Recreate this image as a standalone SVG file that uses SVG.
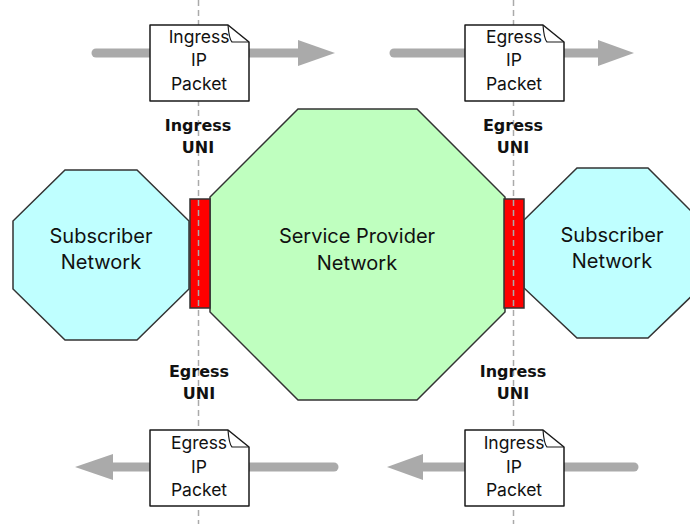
<svg xmlns="http://www.w3.org/2000/svg" width="690" height="524" viewBox="0 0 690 524">
  <defs>
    <style>
      .net { stroke: #333; stroke-width: 1.5; stroke-linejoin: miter; }
      .sub { fill: #bfffff; }
      .sp { fill: #bfffbf; }
      .uni { fill: #ff0000; stroke: #333; stroke-width: 1.5; }
      .guide { stroke: #aaaaaa; stroke-width: 1.5; stroke-dasharray: 6 4; fill: none; }
      .flow { stroke: #aaaaaa; stroke-width: 9; stroke-linecap: round; fill: none; }
      .head { fill: #aaaaaa; }
      .pkt { fill: #ffffff; stroke: #1a1a1a; stroke-width: 1.5; stroke-linejoin: round; }
      .fold { fill: none; stroke: #1a1a1a; stroke-width: 1.2; }
      .t { font-family: Inter, "Liberation Sans", sans-serif; fill: #111; text-anchor: middle; }
      .lg { font-size: 20px; }
      .sm { font-size: 17.5px; }
      .b { font-family: "DejaVu Sans", Inter, sans-serif; font-weight: bold; font-size: 16px; fill: #111; text-anchor: middle; }
    </style>
    <g id="packetShape">
      <path class="pkt" d="M0,0 H78 L99,17 V76 H0 Z"/>
      <path class="fold" d="M78,0 Q79,14 82,17 H99"/>
    </g>
  </defs>

  <!-- flow arrows -->
  <g id="connectors">
    <line class="flow" x1="96" y1="53" x2="300" y2="53"/>
    <polygon class="head" points="298,40 335,53 298,66"/>
    <line class="flow" x1="394" y1="53" x2="600" y2="53"/>
    <polygon class="head" points="598,40 634,53 598,66"/>
    <line class="flow" x1="334" y1="467" x2="112" y2="467"/>
    <polygon class="head" points="113,454 75,467 113,480"/>
    <line class="flow" x1="634" y1="467" x2="422" y2="467"/>
    <polygon class="head" points="423,454 387,467 423,480"/>
  </g>

  <!-- networks -->
  <g id="subscriber-left">
    <polygon class="net sub" points="65,170 137,170 189,221 189,289 137,340 65,340 13,289 13,221"/>
    <text class="t lg" x="101" y="243">Subscriber</text>
    <text class="t lg" x="101" y="269">Network</text>
  </g>
  <g id="subscriber-right">
    <polygon class="net sub" points="577,168 648,168 700,220 700,288 648,338 577,338 524,288 524,220"/>
    <text class="t lg" x="612" y="242">Subscriber</text>
    <text class="t lg" x="612" y="268">Network</text>
  </g>
  <g id="service-provider">
    <polygon class="net sp" points="298,109 417,109 505,197 505,312 417,400 298,400 210,312 210,197"/>
    <text class="t lg" x="357" y="243">Service Provider</text>
    <text class="t lg" x="357" y="270">Network</text>
  </g>

  <!-- UNI boundaries -->
  <g id="uni-left">
    <rect class="uni" x="190" y="199" width="20" height="109"/>
  </g>
  <g id="uni-right">
    <rect class="uni" x="504" y="199" width="20" height="109"/>
  </g>

  <!-- demarcation lines -->
  <g id="demarcation">
    <line class="guide" x1="198.5" y1="0" x2="198.5" y2="524"/>
    <line class="guide" x1="513.5" y1="0" x2="513.5" y2="524"/>
  </g>

  <!-- packets -->
  <g id="packet-top-left">
    <use href="#packetShape" x="150" y="25"/>
    <text class="t sm" x="199" y="43">Ingress</text>
    <text class="t sm" x="199" y="66">IP</text>
    <text class="t sm" x="199" y="90">Packet</text>
  </g>
  <g id="packet-top-right">
    <use href="#packetShape" x="465" y="25"/>
    <text class="t sm" x="514" y="43">Egress</text>
    <text class="t sm" x="514" y="66">IP</text>
    <text class="t sm" x="514" y="90">Packet</text>
  </g>
  <g id="packet-bottom-left">
    <use href="#packetShape" x="150" y="430"/>
    <text class="t sm" x="199" y="449">Egress</text>
    <text class="t sm" x="199" y="473">IP</text>
    <text class="t sm" x="199" y="496">Packet</text>
  </g>
  <g id="packet-bottom-right">
    <use href="#packetShape" x="465" y="430"/>
    <text class="t sm" x="514" y="449">Ingress</text>
    <text class="t sm" x="514" y="473">IP</text>
    <text class="t sm" x="514" y="496">Packet</text>
  </g>

  <!-- UNI labels -->
  <g id="labels">
    <text class="b" x="198" y="131">Ingress</text>
    <text class="b" x="198" y="153">UNI</text>
    <text class="b" x="513" y="131">Egress</text>
    <text class="b" x="513" y="153">UNI</text>
    <text class="b" x="199" y="377">Egress</text>
    <text class="b" x="199" y="399">UNI</text>
    <text class="b" x="513" y="377">Ingress</text>
    <text class="b" x="513" y="399">UNI</text>
  </g>
</svg>
